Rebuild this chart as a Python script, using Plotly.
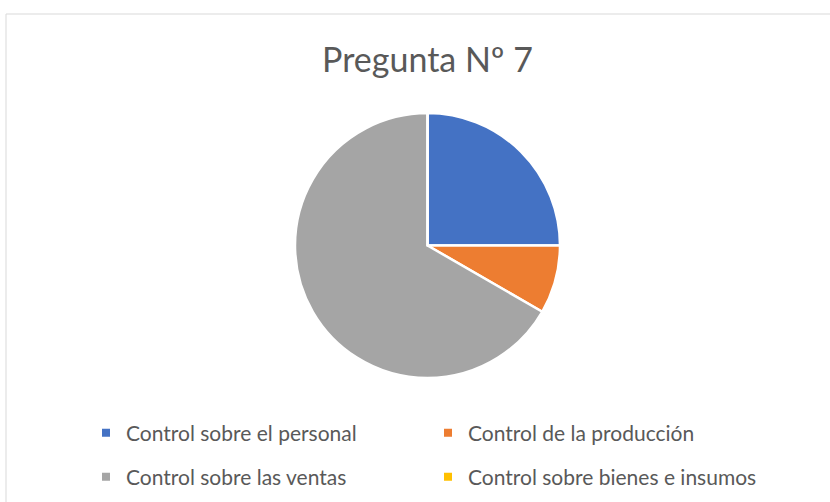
import plotly.graph_objects as go

labels = ["Control sobre el personal", "Control de la producción",
          "Control sobre las ventas", "Control sobre bienes e insumos"]
values = [3, 1, 8, 0]
colors = ["#4472C4", "#ED7D31", "#A5A5A5", "#FFC000"]
title_text = "Pregunta Nº 7"

W, H = 830, 502
cx, cy, r = 427.5, 245.5, 132.5

fig = go.Figure()
fig.add_trace(go.Pie(
    labels=labels, values=values, sort=False, direction="clockwise",
    rotation=0, textinfo="none", showlegend=False,
    marker=dict(colors=colors, line=dict(color="white", width=2.5)),
    domain=dict(x=[(cx - r) / W, (cx + r) / W], y=[1 - (cy + r) / H, 1 - (cy - r) / H]),
    hoverinfo="label+value+percent",
))

# legend entries (two rows, two columns) - one per pie category
for i, (lab, col) in enumerate(zip(labels, colors)):
    fig.add_trace(go.Scatter(
        x=[None], y=[None], mode="markers", name=lab,
        marker=dict(symbol="square", size=8, color=col),
        legend="legend" if i < 2 else "legend2", hoverinfo="skip",
    ))

leg_common = dict(orientation="h", x=86 / W, xanchor="left", yanchor="middle",
                  entrywidth=297, entrywidthmode="pixels",
                  font=dict(size=21, color="#595959"), traceorder="normal",
                  itemclick=False, itemdoubleclick=False, bgcolor="rgba(0,0,0,0)")

fig.update_layout(
    width=W, height=H, margin=dict(l=0, r=0, t=0, b=0, autoexpand=False),
    paper_bgcolor="white", plot_bgcolor="white",
    font=dict(family="Lato, Open Sans, sans-serif", color="#595959"),
    title=dict(text=title_text, x=cx / W, xanchor="center", y=1 - 60 / H, yanchor="middle",
               font=dict(size=34, color="#595959")),
    showlegend=True,
    legend=dict(leg_common, y=1 - 433 / H),
    legend2=dict(leg_common, y=1 - 477 / H),
    xaxis=dict(visible=False), yaxis=dict(visible=False),
    shapes=[dict(type="rect", xref="paper", yref="paper", x0=6 / W, x1=1.02, y0=-0.02, y1=1 - 14 / H,
                 line=dict(color="#D9D9D9", width=1), fillcolor="rgba(0,0,0,0)", layer="below")],
)

fig.write_html("out.html")
